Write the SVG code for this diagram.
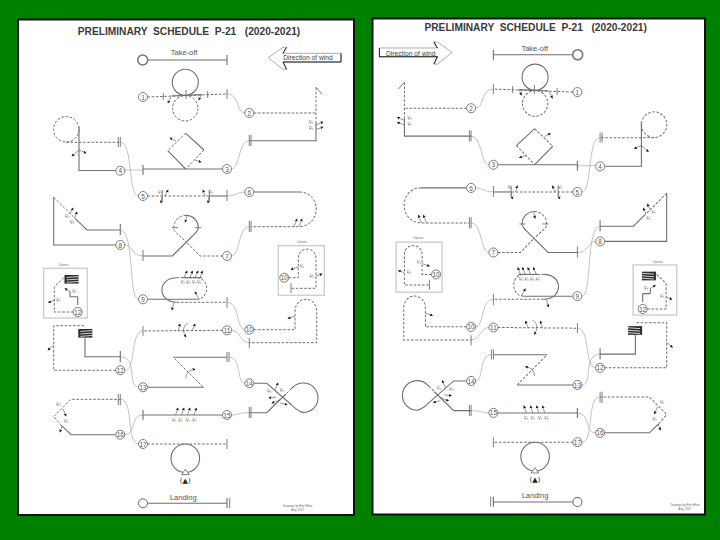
<svg xmlns="http://www.w3.org/2000/svg" xmlns:xlink="http://www.w3.org/1999/xlink" width="720" height="540" viewBox="0 0 720 540">
<style>
text{font-family:"Liberation Sans",Arial,sans-serif;fill:#444;text-anchor:middle;dominant-baseline:central}
.title{font-size:10.2px;font-weight:bold;fill:#3a3a3a;white-space:pre}
.big{font-size:7.5px;fill:#555}
.wind{font-size:6.7px;fill:#444}
.n{font-size:6.4px;fill:#555}
.q{font-size:4.8px;fill:#555}
.o{font-size:3.6px;fill:#777}
.cr{font-size:2.8px;fill:#666}
.sym{font-family:"DejaVu Sans",sans-serif;font-size:7px;fill:#222}
.s,.d,.t,.c,.a{fill:none;stroke:#707070}
.s{stroke-width:1.1}
.d{stroke-width:1;stroke-dasharray:2.6 1.6}
.t{stroke-width:.9}
.c{stroke:#b4b4b4;stroke-width:.8}
.a{stroke:#555;stroke-width:.6;marker-end:url(#h)}
.l{fill:#fff;stroke:#707070;stroke-width:.9}
.box{fill:#fff;stroke:#cfcfcf;stroke-width:1.4}
</style>
<defs>
<marker id="h" markerUnits="userSpaceOnUse" markerWidth="4" markerHeight="4" refX="2.4" refY="1.5" orient="auto"><path d="M0,0L3,1.5L0,3z" fill="#222"/></marker>
<g id="flag"><rect width="14" height="8.6" fill="#2a2a2a"/><path d="M2,2.4L14,1.6M2,4.9L14,4.1M2,7.3L14,6.5" stroke="#fff" stroke-width=".8"/></g>
<g id="plan">
<!-- wind arrow -->
<path d="M268.3,57.7L283,47.3L286.5,47.3L283,53.3H341V62H283L286.5,69.3L283,69.3Z" fill="#fff" stroke="#999" stroke-width=".8"/>
<path d="M283,53.3L286.5,47.3M341,53.3V62H283L286.5,69.3" fill="none" stroke="#222" stroke-width="1"/>
<!-- take-off -->
<path class="s" d="M148,60H227M227,55V65"/>
<circle cx="142.7" cy="60" r="5" fill="#fff" stroke="#777" stroke-width="1.6"/>
<!-- connectors -->
<g id="connectors">
<path class="c" d="M227,94C240,94 236,113 245,113"/>
<path class="c" d="M249.3,140.7C238,141 240,169 231.5,169"/>
<path class="c" d="M143,170H125"/>
<path class="c" d="M120.5,142.3C133,142 128,196 138.5,196"/>
<path class="c" d="M227,196C236,196 238,192 245,192"/>
<path class="c" d="M249.3,226.7C238,227 240,256 231.5,256"/>
<path class="c" d="M143,256C132,256 132,245 125,245"/>
<path class="c" d="M120.5,230C135,232 128,299 138.5,299.3"/>
<path class="c" d="M227,302.3C240,302.5 236,329.7 245,329.7"/>
<path class="c" d="M231.5,330.3C240,330 240,342.7 249.3,342.7"/>
<path class="c" d="M143,331C130,331 136,370 125,370.3"/>
<path class="c" d="M120.3,356.7C138,357 127,387 138.5,387.3"/>
<path class="c" d="M229,357.3C242,357 236,383 245,383.3"/>
<path class="c" d="M249.3,412.7C240,412.5 238,415 231.5,415"/>
<path class="c" d="M143,415C130,415 136,434.7 125,434.7"/>
<path class="c" d="M120.5,399.3C134,399 126,444 138.5,444"/>
</g>
<!-- fig 1 -->
<circle class="s" cx="185.3" cy="82.3" r="13"/>
<circle class="d" cx="185.3" cy="108.3" r="12.7"/>
<path class="d" d="M147.5,97L227,94"/>
<path class="s" d="M171.7,96L201.7,94.6"/>
<path class="t" d="M163.3,93V100M186,90V99M207.7,91V98M227,89V99"/>
<path class="a" d="M171,96.5L168,103"/><path class="a" d="M201,95L199,100"/>
<!-- fig 2 -->
<path class="d" d="M253.8,113H316M316,87.3V123"/>
<path class="t" d="M316,87.3L322,94"/>
<path class="s" d="M316,123V140.7H249.3"/>
<path class="t" d="M249.3,135V146M251,135V146"/>
<path class="a" d="M316,125L323,122"/><path class="a" d="M316,129.5L323,127"/>
<!-- fig 3 -->
<path class="s" d="M227,169H143M143,165V175"/>
<path class="s" d="M185.7,133.3L204,150M167.7,150.7L185.7,169"/>
<path class="d" d="M185.7,133.3L167.7,150.7M204,150L185.7,169"/>
<path class="a" d="M176,141L170,138"/><path class="a" d="M195,160L201,162"/>
<!-- fig 4 -->
<path class="s" d="M120.3,170.5H79V126.7"/>
<circle class="d" cx="66.3" cy="129.3" r="12.7"/>
<path class="d" d="M66.3,142.3H120"/>
<path class="t" d="M118.3,137V147M120.3,137V147"/>
<path class="a" d="M79,150L72,156"/><path class="a" d="M79,150L86,153"/>
<!-- fig 5 -->
<path class="d" d="M147.5,196H208"/>
<path class="s" d="M208,196H227"/>
<path class="t" d="M162.3,190V201M209.3,190V201M227,190V201"/>
<path class="a" d="M165,196L168,190"/><path class="a" d="M162,197L161,203"/>
<path class="a" d="M205,196L203,190"/><path class="a" d="M209,197L208,203"/>
<!-- fig 6 -->
<path class="s" d="M253.8,192H299.3"/>
<path class="d" d="M299.3,192C322,192 322,226.7 298.3,226.7H251"/>
<path class="t" d="M249.3,221V232M251,221V232"/>
<path class="a" d="M294,226.7L297,219"/><path class="a" d="M299,226.7L302,219"/>
<!-- fig 7 -->
<path class="d" d="M222.5,256H200L186,241.7"/>
<path class="s" d="M143,256H172.3L192,236.5C196,232.5 198.3,231 198.3,227.7A12.3,12.3 0 0 0 186,215.4"/>
<path class="d" d="M186,215.4A12.3,12.3 0 0 0 173.7,227.7C173.7,232 178,234 186,241.7"/>
<path class="t" d="M143,250V261M172,227.7H178M195,227.7H201"/>
<path class="a" d="M186,215.4C187,218 186,220 185,222"/>
<!-- fig 8 -->
<path class="s" d="M115.8,245H53.7V197.3"/>
<path class="d" d="M53.7,197.3L75,218.3"/>
<path class="s" d="M75,218.3L87,230H120.3M120.3,224V235"/>
<path class="a" d="M70,214L73,208"/><path class="a" d="M74.5,218L77,212"/>
<!-- fig 9 -->
<path class="s" d="M147.5,299.3H196.7"/>
<path class="d" d="M196.7,299.3C210,299.3 210,277.7 196.7,277.7H176.7"/>
<path class="s" d="M176.7,277.7C157,277.7 157,302.3 176.7,302.3"/>
<path class="d" d="M176.7,302.3H227"/>
<path class="t" d="M227,297V308"/>
<path class="s" d="M183,277.7H202"/>
<path class="a" d="M184,277.7L187,271"/><path class="a" d="M190,277.7L192.5,271"/><path class="a" d="M195,277.7L198,271"/><path class="a" d="M200,277.7L202.5,271"/>
<path class="a" d="M174,302.3L172,310"/><path class="a" d="M199,299L195,292"/>
<!-- fig 10 -->
<path class="d" d="M253.8,329.7H295V311.7C295,295 316.7,295 316.7,311.7V342.7H249.3"/>
<path class="t" d="M249.3,338V348"/>
<path class="a" d="M295,316L288,318.5"/>
<!-- fig 11 -->
<path class="d" d="M222.5,330.3L143,331"/>
<path class="t" d="M143,326V336"/>
<path class="a" d="M188,323C183,326 182,331 186,337"/>
<path class="a" d="M178,331L180,324"/><path class="a" d="M192,331L195,324"/>
<!-- fig 12 -->
<path class="d" d="M115.8,370.3H53.7V325.7H85"/>
<use xlink:href="#flag" x="78.3" y="329"/>
<path class="s" d="M85,337.6V356.7H120.3M120.3,351V362"/>
<path class="a" d="M53.7,345L48,350"/>
<!-- fig 13 -->
<path class="s" d="M147.5,387.3H203.3"/>
<path class="d" d="M203.3,387.3L173.3,357.3"/>
<path class="s" d="M173.3,357.3H227"/>
<path class="t" d="M227,352V362M229,352V362"/>
<path class="a" d="M186,378.3C186,373 189,370 195,369.3"/>
<!-- fig 14 -->
<path class="s" d="M253.8,383.3H266.7L291.7,405C297,411 303,412.4 303.3,412.4A14.7,14.7 0 0 0 303.3,383C296,383 293,387 291.5,388.5"/>
<path class="d" d="M291.5,388.5L286,394"/>
<path class="s" d="M286,394L266.7,412.7H249.3"/>
<path class="t" d="M249.3,407V418M251,407V418"/>
<path class="a" d="M275,390L278,383"/><path class="a" d="M276,397L269,398"/><path class="a" d="M280,400L272,403"/><path class="a" d="M280,403L287,404.5"/>
<!-- fig 15 -->
<path class="s" d="M222.5,415H143M143,410V420"/>
<path class="a" d="M175.5,415L178,408"/><path class="a" d="M181.5,415L184,408"/><path class="a" d="M187.5,415L190,408"/><path class="a" d="M194,415L196.5,408"/>
<!-- fig 16 -->
<path class="s" d="M115.8,434.7H71L61.7,425.7"/>
<path class="d" d="M61.7,425.7L53.7,416.7L71,399.3H120"/>
<path class="t" d="M118.3,394V405M120.3,394V405"/>
<path class="a" d="M63,409L66,416"/><path class="a" d="M62,426L60,432"/>
<!-- fig 17 -->
<path class="d" d="M147.5,444H227"/>
<path class="t" d="M227,439V449"/>
<circle class="s" cx="185.3" cy="458.3" r="14.3"/>
<path d="M181.7,474.5H189.3L185.3,469.3Z" fill="#fff" stroke="#666" stroke-width=".8"/>
<!-- landing -->
<path class="s" d="M147.5,503.3H227M227,498V508"/>
<path class="t" d="M229.7,498V508"/>
<circle cx="143" cy="503.3" r="4.5" fill="#fff" stroke="#666" stroke-width="1"/>
<!-- option 10 -->
<rect class="box" x="278.3" y="245.7" width="46" height="49.6"/>
<path class="d" d="M288.8,277.7H298.3V258.3C298.3,246 316,246 316,258.3V288.3H291"/>
<path class="t" d="M291,283V293"/>
<path class="a" d="M298.3,267L291,269.5"/><path class="a" d="M316,276L322,274"/>
<!-- option 12 -->
<rect class="box" x="43.7" y="268.3" width="43.6" height="49.7"/>
<path class="d" d="M73.2,312H54.3V286.7L66.7,275"/>
<use xlink:href="#flag" x="64.5" y="275"/>
<path class="s" d="M77.7,296.7V305M70,296.7H77.7M70,291.5V296.7"/>
<path class="a" d="M70,291.5L65,288.5"/><path class="a" d="M54.3,300L48.5,302.5"/>
<!-- label rings -->
<g id="rings">
<circle class="l" cx="143" cy="97" r="4.5"/><circle class="l" cx="249.3" cy="113" r="4.5"/><circle class="l" cx="227" cy="169" r="4.5"/><circle class="l" cx="120.3" cy="170.7" r="4.5"/><circle class="l" cx="143" cy="196" r="4.5"/><circle class="l" cx="249.3" cy="192" r="4.5"/><circle class="l" cx="227" cy="256" r="4.5"/><circle class="l" cx="120.3" cy="245" r="4.5"/><circle class="l" cx="143" cy="299.3" r="4.5"/><circle class="l" cx="249.3" cy="329.7" r="4.5"/><circle class="l" cx="227" cy="330.3" r="4.5"/><circle class="l" cx="120.3" cy="370.3" r="4.5"/><circle class="l" cx="143" cy="387.3" r="4.5"/><circle class="l" cx="249.3" cy="383.3" r="4.5"/><circle class="l" cx="227" cy="415" r="4.5"/><circle class="l" cx="120.3" cy="434.7" r="4.5"/><circle class="l" cx="143" cy="444" r="4.5"/><circle class="l" cx="284.3" cy="277.7" r="4.5"/><circle class="l" cx="77.7" cy="312" r="4.5"/>
</g>
</g>
</defs>
<rect width="720" height="540" fill="#008000"/>
<rect x="18" y="19.5" width="336" height="495.5" fill="#fff" stroke="#111" stroke-width="2"/>
<rect x="372.5" y="18.5" width="332.5" height="496" fill="#fff" stroke="#111" stroke-width="2"/>
<g id="left-panel"><use xlink:href="#plan"/></g>
<g id="right-panel"><use xlink:href="#plan" transform="matrix(-1 0 0 1.009 720.4 -5.8)"/></g>
<g id="left-text">
<text class="title" x="189" y="31.7">PRELIMINARY  SCHEDULE  P-21   (2020-2021)</text>
<text class="big" x="184" y="52.7">Take-off</text>
<text class="wind" x="308" y="57.7">Direction of wind</text>
<text class="big" x="183.3" y="497">Landing</text>
<text class="o" x="302" y="241.7">Option</text><text class="o" x="63.3" y="265">Option</text>
<text class="cr" x="297.7" y="506">Drawings by Ron Hilton</text><text class="cr" x="297.7" y="510">Aug. 2017</text>
<text class="sym" x="185.3" y="481">(▲)</text>
<text class="n" x="143" y="97">1</text><text class="n" x="249.3" y="113">2</text><text class="n" x="227" y="169">3</text><text class="n" x="120.3" y="170.7">4</text><text class="n" x="143" y="196">5</text><text class="n" x="249.3" y="192">6</text><text class="n" x="227" y="256">7</text><text class="n" x="120.3" y="245">8</text><text class="n" x="143" y="299.3">9</text><text class="n" x="249.3" y="329.7">10</text><text class="n" x="227" y="330.3">11</text><text class="n" x="120.3" y="370.3">12</text><text class="n" x="143" y="387.3">13</text><text class="n" x="249.3" y="383.3">14</text><text class="n" x="227" y="415">15</text><text class="n" x="120.3" y="434.7">16</text><text class="n" x="143" y="444">17</text><text class="n" x="284.3" y="277.7">10</text><text class="n" x="77.7" y="312">12</text>
<text class="q" x="311" y="122.7">¼</text><text class="q" x="311" y="128.7">¼</text><text class="q" x="160.3" y="192">¼</text><text class="q" x="210.7" y="192">¼</text><text class="q" x="67" y="216">¼</text><text class="q" x="72" y="222">¼</text><text class="q" x="182.7" y="282.7">¼</text><text class="q" x="188.3" y="282.7">¼</text><text class="q" x="194" y="282.7">¼</text><text class="q" x="199.3" y="282.7">¼</text><text class="q" x="301.7" y="266">¼</text><text class="q" x="311.7" y="276">¼</text><text class="q" x="74.3" y="291.7">¼</text><text class="q" x="58.3" y="300">¼</text><text class="q" x="269.3" y="391.7">¼</text><text class="q" x="281.7" y="390.7">¼</text><text class="q" x="174" y="420">¼</text><text class="q" x="180.3" y="420">¼</text><text class="q" x="187.7" y="420">¼</text><text class="q" x="194.3" y="420">¼</text><text class="q" x="58.3" y="404.3">¼</text><text class="q" x="66" y="421.7">¼</text>
</g>
<g id="right-text">
<text class="title" x="535.7" y="27">PRELIMINARY  SCHEDULE  P-21   (2020-2021)</text>
<text class="big" x="534.7" y="48.3">Take-off</text>
<text class="wind" x="410.7" y="53.3">Direction of wind</text>
<text class="big" x="535" y="495.7">Landing</text>
<text class="o" x="418.3" y="238.3">Option</text><text class="o" x="657.7" y="261.7">Option</text>
<text class="cr" x="685" y="505">Drawings by Ron Hilton</text><text class="cr" x="685" y="509.3">Aug. 2017</text>
<text class="sym" x="535" y="479.5">(▲)</text>
<text class="n" x="577.4" y="92.1">1</text><text class="n" x="471.1" y="108.2">2</text><text class="n" x="493.4" y="164.7">3</text><text class="n" x="600.1" y="166.4">4</text><text class="n" x="577.4" y="192">5</text><text class="n" x="471.1" y="188">6</text><text class="n" x="493.4" y="252.5">7</text><text class="n" x="600.1" y="241.4">8</text><text class="n" x="577.4" y="296.2">9</text><text class="n" x="471.1" y="326.9">10</text><text class="n" x="493.4" y="327.5">11</text><text class="n" x="600.1" y="367.8">12</text><text class="n" x="577.4" y="385">13</text><text class="n" x="471.1" y="381">14</text><text class="n" x="493.4" y="412.9">15</text><text class="n" x="600.1" y="432.8">16</text><text class="n" x="577.4" y="442.2">17</text><text class="n" x="436.1" y="274.4">10</text><text class="n" x="642.7" y="309">12</text>
<text class="q" x="409.4" y="118">¼</text><text class="q" x="409.4" y="124">¼</text><text class="q" x="560.1" y="187.9">¼</text><text class="q" x="509.7" y="187.9">¼</text><text class="q" x="653.4" y="212.1">¼</text><text class="q" x="648.4" y="218.2">¼</text><text class="q" x="537.7" y="279.4">¼</text><text class="q" x="532.1" y="279.4">¼</text><text class="q" x="526.4" y="279.4">¼</text><text class="q" x="521.1" y="279.4">¼</text><text class="q" x="418.7" y="262.6">¼</text><text class="q" x="408.7" y="272.7">¼</text><text class="q" x="646.1" y="288.5">¼</text><text class="q" x="662.1" y="296.9">¼</text><text class="q" x="451.1" y="389.4">¼</text><text class="q" x="438.7" y="388.4">¼</text><text class="q" x="546.4" y="418">¼</text><text class="q" x="540.1" y="418">¼</text><text class="q" x="532.7" y="418">¼</text><text class="q" x="526.1" y="418">¼</text><text class="q" x="662.1" y="402.1">¼</text><text class="q" x="654.4" y="419.7">¼</text>
</g>
</svg>
